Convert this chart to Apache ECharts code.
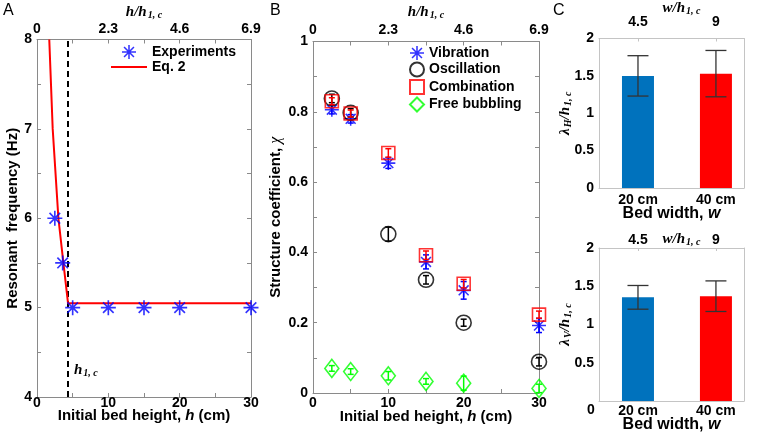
<!DOCTYPE html>
<html><head><meta charset="utf-8">
<script src="https://cdn.jsdelivr.net/npm/echarts@6/dist/echarts.min.js"></script>
<style>html,body{margin:0;padding:0;background:#fff}#c{width:757px;height:434px}</style>
</head><body><div id="c"></div>
<script>
// ---------- Panel A data ----------
const expH = [2.5, 3.6, 5, 10, 15, 20, 30];
const expF = [6, 5.5, 5, 5, 5, 5, 5];
const eqH = [1.72, 2.2, 3.0, 3.7, 4.35, 30];
const eqF = [8, 7, 6, 5.5, 5.05, 5.05];
const hCrit = 4.35;
const hTopLabels = ['0', '2.3', '4.6', '6.9'];
// ---------- Panel B data ----------
const bedH = [2.5, 5, 10, 15, 20, 30];
const vib = [0.806, 0.780, 0.654, 0.373, 0.292, 0.192];
const vibErr = [0.012, 0.012, 0.015, 0.02, 0.025, 0.02];
const osc = [0.838, 0.797, 0.452, 0.322, 0.200, 0.089];
const oscErr = [0.012, 0.012, 0.02, 0.012, 0.01, 0.012];
const comb = [0.830, 0.795, 0.683, 0.392, 0.311, 0.223];
const combErr = [0.01, 0.01, 0.012, 0.012, 0.012, 0.01];
const free = [0.070, 0.061, 0.049, 0.033, 0.028, 0.013];
const freeErr = [0.008, 0.008, 0.012, 0.008, 0.02, 0.012];
// ---------- Panel C data ----------
const widthCm = [20, 40];
const widthLabels = ['20 cm', '40 cm'];
const widthRatioLabels = ['4.5', '9'];
const lambdaH = [1.50, 1.53];
const lambdaHLow = [1.23, 1.22];
const lambdaHHigh = [1.77, 1.84];
const lambdaV = [1.355, 1.37];
const lambdaVLow = [1.20, 1.17];
const lambdaVHigh = [1.51, 1.57];
const barColors = ['#0072BD', '#FF0000'];

const font = "'Liberation Sans', Arial, sans-serif";
const serif = "'Liberation Serif', 'Times New Roman', serif";
const frameAB = '#8a8a8a';
const frameC = '#c4c4c4';
const starPath = 'path://M-1.1,-10L1.1,-10L1.1,10L-1.1,10Z M-10,-1.1L10,-1.1L10,1.1L-10,1.1Z M-7.85,-6.29L-6.29,-7.85L7.85,6.29L6.29,7.85Z M6.29,-7.85L7.85,-6.29L-6.29,7.85L-7.85,6.29Z';
const lineIcon = 'path://M0,0L36,0L36,2L0,2Z';

const lblStyle = {color: '#000', fontWeight: 'bold', fontSize: 14, fontFamily: font};
const richSub = {
  i: {fontFamily: serif, fontStyle: 'italic', fontWeight: 'bold', fontSize: 15, color: '#000'},
  s: {fontFamily: serif, fontStyle: 'italic', fontWeight: 'bold', fontSize: 10, color: '#000', padding: [6, 0, 0, 1]},
  n: {fontFamily: font, fontWeight: 'bold', fontSize: 15, color: '#000'},
  ni: {fontFamily: font, fontWeight: 'bold', fontStyle: 'italic', fontSize: 15, color: '#000'},
  g: {fontFamily: serif, fontStyle: 'italic', fontSize: 16, color: '#000'}
};

function axisBase(grid, color, extra) {
  return Object.assign({
    gridIndex: grid, type: 'value',
    nameMoveOverlap: false,
    axisLine: {show: true, onZero: false, lineStyle: {color: color, width: 1}},
    axisTick: {show: true, inside: true, length: 4, lineStyle: {color: color}},
    splitLine: {show: false},
    axisLabel: Object.assign({}, lblStyle)
  }, extra);
}

function errRender(capHalf, color, lw) {
  return function (params, api) {
    const x = api.value(0), lo = api.value(1), hi = api.value(2);
    const p1 = api.coord([x, lo]), p2 = api.coord([x, hi]);
    const st = {stroke: color, lineWidth: lw};
    return {type: 'group', children: [
      {type: 'line', shape: {x1: p1[0], y1: p1[1], x2: p2[0], y2: p2[1]}, style: st},
      {type: 'line', shape: {x1: p1[0] - capHalf, y1: p1[1], x2: p1[0] + capHalf, y2: p1[1]}, style: st},
      {type: 'line', shape: {x1: p2[0] - capHalf, y1: p2[1], x2: p2[0] + capHalf, y2: p2[1]}, style: st}
    ]};
  };
}
function errData(xs, ys, es) { return xs.map((x, i) => [x, ys[i] - es[i], ys[i] + es[i]]); }
function errDataLH(xs, lo, hi) { return xs.map((x, i) => [x, lo[i], hi[i]]); }

const bedWidthName = {fontWeight: 'bold', fontSize: 16, color: '#000', fontFamily: font,
  rich: {ni: {fontWeight: 'bold', fontStyle: 'italic', fontSize: 16, color: '#000', fontFamily: font}}};

const xAxes = [
  // A bottom / top
  axisBase(0, frameAB, {min: 0, max: 30, interval: 5, position: 'bottom',
    axisLabel: Object.assign({}, lblStyle, {margin: -1, formatter: v => v % 10 === 0 ? String(v) : ''}),
    name: '{n|Initial bed height, }{ni|h}{n| (cm)}', nameLocation: 'middle', nameGap: 11,
    nameTextStyle: {rich: richSub}}),
  axisBase(0, frameAB, {min: 0, max: 30, interval: 5, position: 'top',
    axisLabel: Object.assign({}, lblStyle, {margin: 3, formatter: v => v % 10 === 0 ? hTopLabels[v / 10] : ''}),
    name: '{i|h/h}{s|1, c}', nameLocation: 'middle', nameGap: 19, nameTextStyle: {rich: richSub}}),
  // B bottom / top
  axisBase(1, frameAB, {min: 0, max: 30, interval: 5, position: 'bottom',
    axisLabel: Object.assign({}, lblStyle, {margin: 3, formatter: v => v % 10 === 0 ? String(v) : ''}),
    name: '{n|Initial bed height, }{ni|h}{n| (cm)}', nameLocation: 'middle', nameGap: 16,
    nameTextStyle: {rich: richSub}}),
  axisBase(1, frameAB, {min: 0, max: 30, interval: 5, position: 'top',
    axisLabel: Object.assign({}, lblStyle, {margin: 4, formatter: v => v % 10 === 0 ? hTopLabels[v / 10] : ''}),
    name: '{i|h/h}{s|1, c}', nameLocation: 'middle', nameGap: 21, nameTextStyle: {rich: richSub}}),
  // C1 bottom / top
  axisBase(2, frameC, {min: 10, max: 47.2, position: 'bottom',
    axisTick: {show: false},
    axisLabel: Object.assign({}, lblStyle, {margin: 5, customValues: widthCm, formatter: v => widthLabels[widthCm.indexOf(v)] || ''}),
    name: 'Bed width, {ni|w}', nameLocation: 'middle', nameGap: 18, nameTextStyle: bedWidthName}),
  axisBase(2, frameC, {min: 10, max: 47.2, position: 'top',
    axisTick: {show: true, inside: true, length: 3, customValues: widthCm, lineStyle: {color: frameC}},
    axisLabel: Object.assign({}, lblStyle, {margin: 9, customValues: widthCm, formatter: v => widthRatioLabels[widthCm.indexOf(v)] || ''}),
    name: '{i|w/h}{s|1, c}', nameLocation: 'middle', nameGap: 22,
    nameTextStyle: {rich: richSub, padding: [0, 0, 0, 20]}}),
  // C2 bottom / top
  axisBase(3, frameC, {min: 10, max: 47.2, position: 'bottom',
    axisTick: {show: false},
    axisLabel: Object.assign({}, lblStyle, {margin: 3, customValues: widthCm, formatter: v => widthLabels[widthCm.indexOf(v)] || ''}),
    name: 'Bed width, {ni|w}', nameLocation: 'middle', nameGap: 16, nameTextStyle: bedWidthName}),
  axisBase(3, frameC, {min: 10, max: 47.2, position: 'top',
    axisTick: {show: true, inside: true, length: 3, customValues: widthCm, lineStyle: {color: frameC}},
    axisLabel: Object.assign({}, lblStyle, {margin: 1, customValues: widthCm, formatter: v => widthRatioLabels[widthCm.indexOf(v)] || ''}),
    name: '{i|w/h}{s|1, c}', nameLocation: 'middle', nameGap: 1,
    nameTextStyle: {rich: richSub, padding: [0, 0, 0, 20]}})
];

const yAxes = [
  axisBase(0, frameAB, {min: 4, max: 8, interval: 0.5, position: 'left',
    axisLabel: Object.assign({}, lblStyle, {margin: 5, formatter: v => Number.isInteger(v) ? String(v) : ''}),
    name: 'Resonant  frequency (Hz)', nameLocation: 'middle', nameGap: 17,
    nameTextStyle: {fontWeight: 'bold', fontSize: 15, color: '#000', fontFamily: font}}),
  axisBase(0, frameAB, {min: 4, max: 8, interval: 0.5, position: 'right', axisLabel: {show: false}}),
  axisBase(1, frameAB, {min: 0, max: 1, interval: 0.1, position: 'left',
    axisLabel: Object.assign({}, lblStyle, {margin: 5, formatter: v => Math.round(v * 10) % 2 === 0 ? String(Math.round(v * 10) / 10) : ''}),
    name: '{n|Structure coefficient, }{g|χ}', nameLocation: 'middle', nameGap: 29,
    nameTextStyle: {rich: richSub}}),
  axisBase(1, frameAB, {min: 0, max: 1, interval: 0.1, position: 'right', axisLabel: {show: false}}),
  axisBase(2, frameC, {min: 0, max: 2, interval: 0.5, position: 'left',
    axisTick: {show: false},
    axisLabel: Object.assign({}, lblStyle, {margin: 5}),
    name: '{i|λ}{s|H}{i|/h}{s|1, c}', nameLocation: 'middle', nameGap: 26,
    nameTextStyle: {rich: richSub}}),
  axisBase(2, frameC, {min: 0, max: 2, interval: 0.5, position: 'right', axisTick: {show: false}, axisLabel: {show: false}}),
  axisBase(3, frameC, {min: 0, max: 2, interval: 0.5, position: 'left',
    axisTick: {show: false},
    axisLabel: Object.assign({}, lblStyle, {margin: 5, formatter: v => v === 0 ? '' : String(v)}),
    name: '{i|λ}{s|V}{i|/h}{s|1, c}', nameLocation: 'middle', nameGap: 26,
    nameTextStyle: {rich: richSub}}),
  axisBase(3, frameC, {min: 0, max: 2, interval: 0.5, position: 'right', axisTick: {show: false}, axisLabel: {show: false}})
];

const hollow = (c) => ({color: 'rgba(255,255,255,0)', borderColor: c, borderWidth: 1.6});

const series = [
  // Panel A
  {type: 'line', name: 'critical', xAxisIndex: 0, yAxisIndex: 0, data: [[hCrit, 4], [hCrit, 8]],
    symbol: 'none', lineStyle: {color: '#000', width: 2, type: [6, 4]}, silent: true, z: 2},
  {type: 'line', name: 'Eq. 2', xAxisIndex: 0, yAxisIndex: 0, data: eqH.map((h, i) => [h, eqF[i]]),
    symbol: 'none', lineStyle: {color: '#FF0000', width: 2}, itemStyle: {color: '#FF0000'}, z: 3},
  {type: 'scatter', name: 'Experiments', xAxisIndex: 0, yAxisIndex: 0, data: expH.map((h, i) => [h, expF[i]]),
    symbol: starPath, symbolSize: 15, itemStyle: {color: '#0000FF'}, z: 4},
  // Panel B
  {type: 'scatter', name: 'Vibration', xAxisIndex: 2, yAxisIndex: 2, data: bedH.map((h, i) => [h, vib[i]]),
    symbol: starPath, symbolSize: 14, itemStyle: {color: '#0000FF'}, z: 3},
  {type: 'custom', xAxisIndex: 2, yAxisIndex: 2, data: errData(bedH, vib, vibErr), renderItem: errRender(3, '#0000FF', 1.5),
    encode: {x: 0, y: [1, 2]}, z: 3},
  {type: 'scatter', name: 'Oscillation', xAxisIndex: 2, yAxisIndex: 2, data: bedH.map((h, i) => [h, osc[i]]),
    symbol: 'circle', symbolSize: 15, itemStyle: hollow('#000'), z: 4},
  {type: 'custom', xAxisIndex: 2, yAxisIndex: 2, data: errData(bedH, osc, oscErr), renderItem: errRender(3, '#000', 1.5),
    encode: {x: 0, y: [1, 2]}, z: 4},
  {type: 'scatter', name: 'Combination', xAxisIndex: 2, yAxisIndex: 2, data: bedH.map((h, i) => [h, comb[i]]),
    symbol: 'rect', symbolSize: 13, itemStyle: hollow('#FF0000'), z: 5},
  {type: 'custom', xAxisIndex: 2, yAxisIndex: 2, data: errData(bedH, comb, combErr), renderItem: errRender(3, '#FF0000', 1.5),
    encode: {x: 0, y: [1, 2]}, z: 5},
  {type: 'scatter', name: 'Free bubbling', xAxisIndex: 2, yAxisIndex: 2, data: bedH.map((h, i) => [h, free[i]]),
    symbol: 'diamond', symbolSize: [14, 18], itemStyle: hollow('#00FF00'), z: 5},
  {type: 'custom', xAxisIndex: 2, yAxisIndex: 2, data: errData(bedH, free, freeErr), renderItem: errRender(3, '#00FF00', 1.5),
    encode: {x: 0, y: [1, 2]}, z: 5},
  // Panel C
  {type: 'bar', xAxisIndex: 4, yAxisIndex: 4, barWidth: 32,
    data: widthCm.map((w, i) => ({value: [w, lambdaH[i]], itemStyle: {color: barColors[i]}})), z: 2},
  {type: 'custom', xAxisIndex: 4, yAxisIndex: 4, data: errDataLH(widthCm, lambdaHLow, lambdaHHigh),
    renderItem: errRender(10.5, '#333', 1.3), encode: {x: 0, y: [1, 2]}, z: 3},
  {type: 'bar', xAxisIndex: 6, yAxisIndex: 6, barWidth: 32,
    data: widthCm.map((w, i) => ({value: [w, lambdaV[i]], itemStyle: {color: barColors[i]}})), z: 2},
  {type: 'custom', xAxisIndex: 6, yAxisIndex: 6, data: errDataLH(widthCm, lambdaVLow, lambdaVHigh),
    renderItem: errRender(10.5, '#333', 1.3), encode: {x: 0, y: [1, 2]}, z: 3}
];

const legendText = {fontSize: 14, fontWeight: 'bold', color: '#000', fontFamily: font};
const option = {
  animation: false,
  backgroundColor: '#fff',
  textStyle: {fontFamily: font},
  grid: [
    {left: 37, top: 33, width: 214, height: 364},
    {left: 313, top: 35, width: 226, height: 358},
    {left: 599, top: 32, width: 145, height: 156},
    {left: 599, top: 248, width: 145, height: 155}
  ],
  xAxis: xAxes,
  yAxis: yAxes,
  legend: [
    {left: 111, top: 45, padding: 0, orient: 'vertical', itemWidth: 36, itemHeight: 14, itemGap: 1,
      data: ['Experiments', {name: 'Eq. 2', icon: lineIcon}], textStyle: legendText, selectedMode: false},
    {left: 409, top: 46, padding: 0, orient: 'vertical', itemWidth: 14, itemHeight: 14, itemGap: 1.5,
      data: ['Vibration', 'Oscillation', 'Combination', 'Free bubbling'], textStyle: legendText, selectedMode: false}
  ],
  graphic: [
    {type: 'text', left: 3, top: 3, style: {text: 'A', font: "16px 'Liberation Sans', Arial", fill: '#000'}},
    {type: 'text', left: 270, top: 3, style: {text: 'B', font: "16px 'Liberation Sans', Arial", fill: '#000'}},
    {type: 'text', left: 553, top: 3, style: {text: 'C', font: "16px 'Liberation Sans', Arial", fill: '#000'}},
    {type: 'text', left: 74, top: 363, style: {text: '{i|h}{s|1, c}', rich: richSub}},
    {type: 'text', left: 587, top: 403, style: {text: '0', font: "bold 14px 'Liberation Sans', Arial", fill: '#000'}}
  ],
  series: series
};
const chart = echarts.init(document.getElementById('c'), null, {renderer: 'canvas'});
chart.setOption(option);
</script></body></html>
